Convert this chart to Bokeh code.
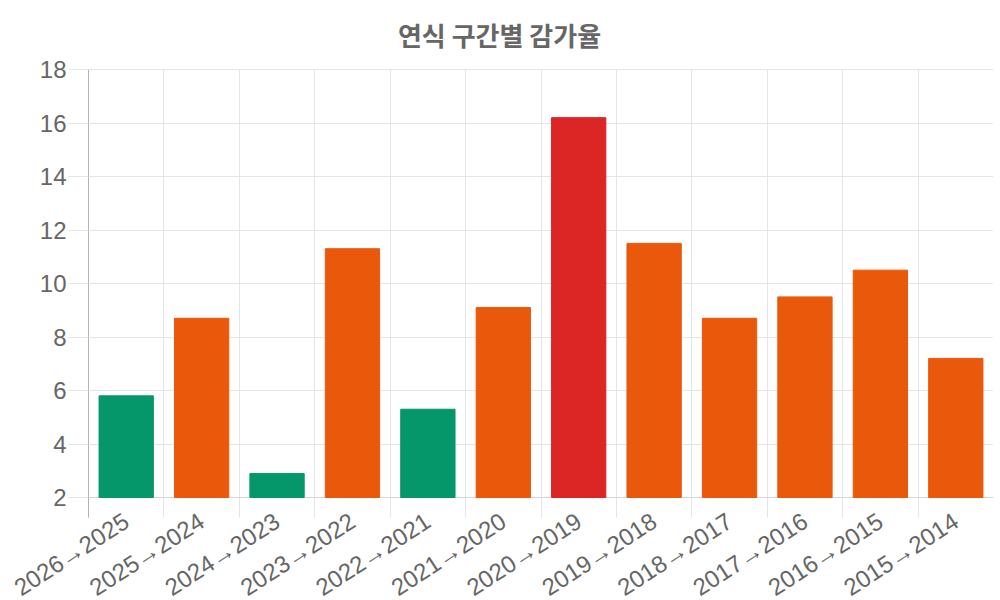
from bokeh.plotting import figure
from bokeh.models import Range1d, FixedTicker, ColumnDataSource, LabelSet, Label, Grid
from bokeh.core.properties import value
from bokeh.embed import file_html
from bokeh.resources import INLINE

# ---- data ----
title_text = "연식 구간별 감가율"
x_labels = ["2026→2025", "2025→2024", "2024→2023", "2023→2022", "2022→2021", "2021→2020",
            "2020→2019", "2019→2018", "2018→2017", "2017→2016", "2016→2015", "2015→2014"]
values = [5.8, 8.7, 2.9, 11.3, 5.3, 9.1, 16.2, 11.5, 8.7, 9.5, 10.5, 7.2]
y_ticks = [2, 4, 6, 8, 10, 12, 14, 16, 18]

GREEN, ORANGE, RED = "#059669", "#ea580c", "#dc2626"


def bar_color(v):
    if v >= 15:
        return RED
    if v >= 7:
        return ORANGE
    return GREEN


n = len(values)
src = ColumnDataSource(dict(
    x=[i + 0.5 for i in range(n)],
    top=values,
    label=x_labels,
    color=[bar_color(v) for v in values],
))

# ---- layout geometry (pixels) ----
W, H = 1000, 600
AXIS_X, RIGHT_X = 88, 993     # pixel columns of the value axis and the right edge of the plot
TOP_Y, AXIS_Y = 69, 497       # pixel rows of the top tick and the category axis
TITLE_X, TITLE_Y = 499, 34    # pixel centre of the title
TICK = 20                     # tick length below / left of the axes
py = (AXIS_Y - TOP_Y) / (y_ticks[-1] - y_ticks[0])
px = (RIGHT_X - AXIS_X) / n
# the frame covers the whole page so that rotated labels and the title are not clipped
y_lo = y_ticks[0] - (H - AXIS_Y) / py
y_hi = y_ticks[-1] + TOP_Y / py
x_lo = 0 - AXIS_X / px
y_tick_end = y_ticks[0] - TICK / py
x_tick_end = 0 - TICK / px

TEXT = "#666666"
GRID = "#e5e5e5"

p = figure(width=W, height=H, x_range=Range1d(x_lo, n), y_range=Range1d(y_lo, y_hi),
           output_backend="svg", toolbar_location=None, x_axis_location=None,
           min_border_left=0, min_border_right=W - RIGHT_X,
           min_border_top=0, min_border_bottom=0)
p.outline_line_color = None
p.background_fill_color = "white"

p.vbar(x="x", top="top", bottom=y_ticks[0], width=0.72, color="color", source=src)

# title
p.add_layout(Label(x=x_lo + TITLE_X / px, y=y_hi - TITLE_Y / py, text=title_text,
                   text_align="center", text_baseline="middle",
                   text_font="Noto Sans CJK KR", text_font_size="26px",
                   text_font_style="bold", text_color=TEXT))

# rotated category labels
labels = LabelSet(x="x", y=y_ticks[0], text="label", source=src,
                  y_offset=-21, angle=33, angle_units="deg",
                  text_align="right", text_baseline="middle",
                  text_font=value("Liberation Sans"), text_font_size=value("24px"),
                  text_color=TEXT)
p.add_layout(labels)

# y axis, drawn at x = 0 inside the frame
ya = p.yaxis[0]
ya.fixed_location = 0
ya.ticker = FixedTicker(ticks=y_ticks)
ya.bounds = (y_tick_end, y_ticks[-1])
ya.major_tick_out = TICK
ya.major_tick_in = 0
ya.major_tick_line_color = GRID
ya.minor_tick_line_color = None
ya.axis_line_color = "#b3b3b3"
ya.major_label_standoff = 2
ya.major_label_text_font = "Liberation Sans"
ya.major_label_text_font_size = "24px"
ya.major_label_text_color = TEXT

# grids: vertical lines at category boundaries, continuing below the axis as ticks
p.xgrid.ticker = FixedTicker(ticks=list(range(n + 1)))
p.xgrid.cross_bounds = (y_tick_end, y_ticks[-1])
p.xgrid.grid_line_color = GRID
p.ygrid.ticker = FixedTicker(ticks=y_ticks)
p.ygrid.cross_bounds = (x_tick_end, n)
p.ygrid.grid_line_color = GRID

# category axis line (slightly darker than the grid)
p.add_layout(Grid(dimension=1, ticker=FixedTicker(ticks=[y_ticks[0]]),
                  cross_bounds=(x_tick_end, n), grid_line_color="#d6d6d6"))

open("out.html", "w").write(file_html(p, INLINE))
